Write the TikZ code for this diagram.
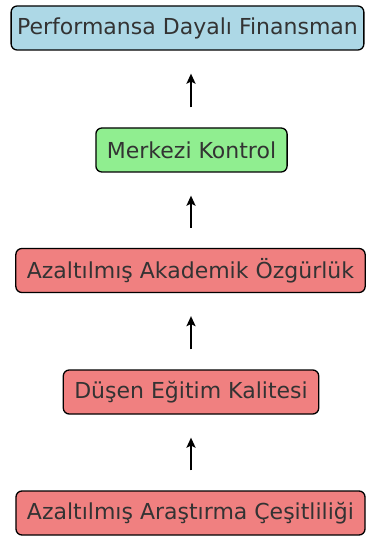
\documentclass[tikz,border=0pt]{standalone}
\usepackage{fontspec}
\setmainfont{DejaVu Sans}
\usepackage{xcolor}
\usetikzlibrary{arrows.meta}
\definecolor{boxblue}{HTML}{ADD8E6}
\definecolor{boxgreen}{HTML}{90EE90}
\definecolor{boxcoral}{HTML}{F08080}
\definecolor{textdark}{HTML}{333333}
\tikzset{
  every node/.append style={font=\fontsize{22}{26}\selectfont,text=textdark},
  stage/.style={draw=black,line width=1.3pt,rounded corners=6pt,
    minimum height=44pt,inner xsep=11pt,inner ysep=0pt},
  flow/.style={->,line width=1.8pt,shorten <=20pt,shorten >=23pt}
}
\begin{document}
\begin{tikzpicture}[x=1pt,y=1pt,>={Stealth[length=10pt,width=9pt,inset=2pt]}]
  \useasboundingbox (0,0) rectangle (366,-537);
  \node[stage,fill=boxblue,inner xsep=6pt] (funding) at (187.5,-28) {Performansa Dayalı Finansman};
  \node[stage,fill=boxgreen] (control) at (191.5,-150) {Merkezi Kontrol};
  \node[stage,fill=boxcoral] (freedom) at (190.5,-270.5) {Azaltılmış Akademik Özgürlük};
  \node[stage,fill=boxcoral] (quality) at (191,-392) {Düşen Eğitim Kalitesi};
  \node[stage,fill=boxcoral] (diversity) at (190.5,-513) {Azaltılmış Araştırma Çeşitliliği};
  % arrows point upwards, from cause to effect
  \draw[flow] (control.north -| 191,0) -- (funding.south -| 191,0);
  \draw[flow] (freedom.north -| 191,0) -- (control.south -| 191,0);
  \draw[flow] (quality.north -| 191,0) -- (freedom.south -| 191,0);
  \draw[flow] (diversity.north -| 191,0) -- (quality.south -| 191,0);
\end{tikzpicture}
\end{document}
